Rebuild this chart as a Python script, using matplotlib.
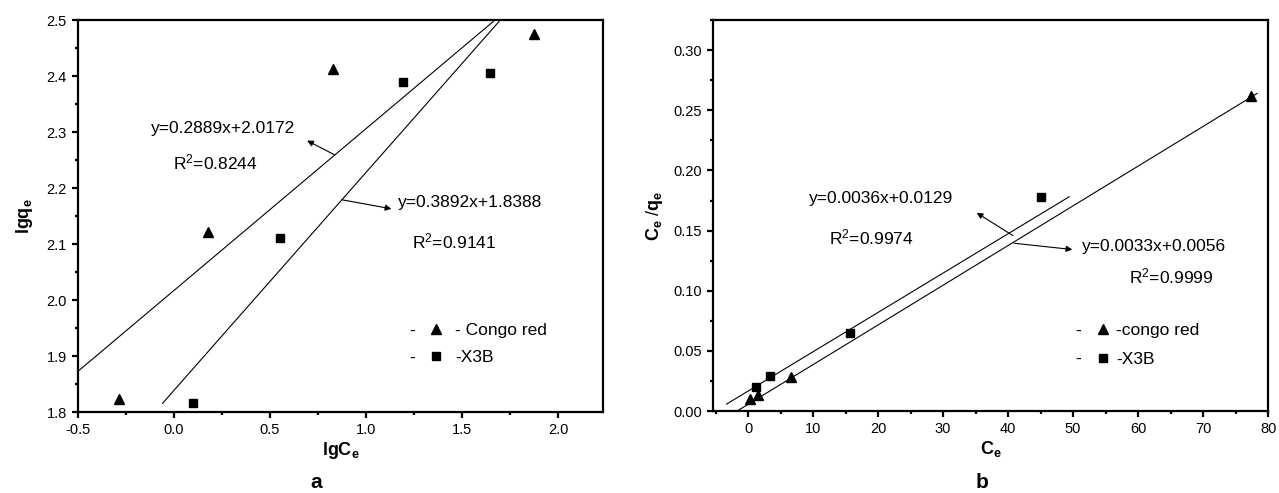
import matplotlib
matplotlib.use('Agg')
import numpy as np
import matplotlib.pyplot as plt
from matplotlib.lines import Line2D
from matplotlib.ticker import MultipleLocator

plt.rcParams['font.family'] = ['Liberation Sans', 'DejaVu Sans']
plt.rcParams['mathtext.fontset'] = 'custom'
plt.rcParams['mathtext.rm'] = 'Liberation Sans'
plt.rcParams['mathtext.bf'] = 'Liberation Sans:bold'
plt.rcParams['mathtext.default'] = 'regular'
plt.rcParams['axes.unicode_minus'] = False

# (a) Freundlich: lgCe / lgqe
congo_lgce = [-0.286, 0.177, 0.828, 1.875]
congo_lgqe = [1.823, 2.121, 2.4125, 2.475]
x3b_lgce = [0.10, 0.552, 1.19, 1.645]
x3b_lgqe = [1.816, 2.11, 2.39, 2.405]
fit_a_slope = [0.2889, 0.3892]
fit_a_icpt = [2.0172, 1.8388]
fit_a_x = [[-0.5, 1.67], [-0.06, 1.70]]
eq_a = ['y=0.2889x+2.0172', 'y=0.3892x+1.8388']
r2_a = ['R$^2$=0.8244', 'R$^2$=0.9141']

# (b) Langmuir: Ce / (Ce/qe)
congo_ce = [0.3, 1.5, 6.6, 77.4]
congo_ceqe = [0.010, 0.013, 0.028, 0.262]
x3b_ce = [1.2, 3.4, 15.7, 45.1]
x3b_ceqe = [0.020, 0.029, 0.065, 0.178]
fit_b_slope = [0.0033, 0.00327]
fit_b_icpt = [0.0056, 0.0166]
fit_b_x = [[-1.7, 78.3], [-3.3, 49.4]]
eq_b = ['y=0.0033x+0.0056', 'y=0.0036x+0.0129']
r2_b = ['R$^2$=0.9999', 'R$^2$=0.9974']

fig = plt.figure(figsize=(12.79, 4.93), dpi=100)
ax1 = fig.add_axes([0.061, 0.1643, 0.4105, 0.795])
ax2 = fig.add_axes([0.5575, 0.1663, 0.434, 0.793])

def style(ax):
    for s in ax.spines.values():
        s.set_linewidth(1.6)
    ax.tick_params(which='both', direction='out', width=1.6, labelsize=10.5,
                   top=False, right=False)
    ax.tick_params(which='major', length=4, pad=4)
    ax.tick_params(which='minor', length=2.5)

# ---- a ----
ax1.plot(congo_lgce, congo_lgqe, '^', color='black', markersize=7, clip_on=False)
ax1.plot(x3b_lgce, x3b_lgqe, 's', color='black', markersize=6, clip_on=False)
for k in range(2):
    xx = np.array(fit_a_x[k])
    ax1.plot(xx, fit_a_slope[k] * xx + fit_a_icpt[k], '-', color='black', lw=0.8)
ax1.set_xlim(-0.5, 2.234)
ax1.set_ylim(1.8, 2.5)
ax1.xaxis.set_major_locator(MultipleLocator(0.5))
ax1.xaxis.set_minor_locator(MultipleLocator(0.25))
ax1.yaxis.set_major_locator(MultipleLocator(0.1))
ax1.yaxis.set_minor_locator(MultipleLocator(0.05))
style(ax1)
ax1.set_xlabel(r'$\mathbf{lgC_e}$', fontsize=13, labelpad=2)
ax1.set_ylabel(r'$\mathbf{lgq_e}$', fontsize=13, labelpad=8)

ax1.text(-0.12, 2.307, eq_a[0], fontsize=12.5, va='center', ha='left')
ax1.text(-0.005, 2.245, r2_a[0], fontsize=12.5, va='center', ha='left')
ax1.annotate('', xy=(0.68, 2.287), xytext=(0.849, 2.257),
             arrowprops=dict(arrowstyle='-|>', color='black', lw=0.8, mutation_scale=9))
ax1.text(1.167, 2.175, eq_a[1], fontsize=12.5, va='center', ha='left')
ax1.text(1.24, 2.104, r2_a[1], fontsize=12.5, va='center', ha='left')
ax1.annotate('', xy=(1.146, 2.162), xytext=(0.859, 2.180),
             arrowprops=dict(arrowstyle='-|>', color='black', lw=0.8, mutation_scale=9))

h = [Line2D([], [], marker='^', color='black', ls='none', markersize=7),
     Line2D([], [], marker='s', color='black', ls='none', markersize=6)]
ax1.legend(h, ['- Congo red', '-X3B'], loc='upper left', bbox_to_anchor=(0.665, 0.228),
           frameon=False, fontsize=12.5, borderpad=0, borderaxespad=0, handlelength=1.0,
           handletextpad=0.6, labelspacing=0.68)
ax1.text(0.636, 0.207, '-', transform=ax1.transAxes, fontsize=12.5, ha='center', va='center')
ax1.text(0.636, 0.138, '-', transform=ax1.transAxes, fontsize=12.5, ha='center', va='center')

# ---- b ----
ax2.plot(congo_ce, congo_ceqe, '^', color='black', markersize=7)
ax2.plot(x3b_ce, x3b_ceqe, 's', color='black', markersize=6)
for k in range(2):
    xx = np.array(fit_b_x[k])
    ax2.plot(xx, fit_b_slope[k] * xx + fit_b_icpt[k], '-', color='black', lw=0.8)
ax2.set_xlim(-5.4, 80)
ax2.set_ylim(0, 0.325)
ax2.xaxis.set_major_locator(MultipleLocator(10))
ax2.xaxis.set_minor_locator(MultipleLocator(5))
ax2.yaxis.set_major_locator(MultipleLocator(0.05))
ax2.yaxis.set_minor_locator(MultipleLocator(0.025))
ax2.yaxis.set_major_formatter(matplotlib.ticker.FormatStrFormatter('%.2f'))
style(ax2)
ax2.set_xlabel(r'$\mathbf{C_e}$', fontsize=13, labelpad=2)
ax2.set_ylabel(r'$\mathbf{C_e}$ /$\mathbf{q_e}$', fontsize=13, labelpad=6)

ax2.text(9.4, 0.177, eq_b[1], fontsize=12.5, va='center', ha='left')
ax2.text(12.5, 0.1447, r2_b[1], fontsize=12.5, va='center', ha='left')
ax2.annotate('', xy=(34.8, 0.166), xytext=(41.1, 0.1446),
             arrowprops=dict(arrowstyle='-|>', color='black', lw=0.8, mutation_scale=9))
ax2.text(51.4, 0.1365, eq_b[0], fontsize=12.5, va='center', ha='left')
ax2.text(58.6, 0.112, r2_b[0], fontsize=12.5, va='center', ha='left')
ax2.annotate('', xy=(50.3, 0.134), xytext=(40.5, 0.1397),
             arrowprops=dict(arrowstyle='-|>', color='black', lw=0.8, mutation_scale=9))

ax2.legend(h, ['-congo red', '-X3B'], loc='upper left', bbox_to_anchor=(0.687, 0.226),
           frameon=False, fontsize=12.5, borderpad=0, borderaxespad=0, handlelength=1.0,
           handletextpad=0.25, labelspacing=0.8)
ax2.text(0.657, 0.205, '-', transform=ax2.transAxes, fontsize=12.5, ha='center', va='center')
ax2.text(0.657, 0.132, '-', transform=ax2.transAxes, fontsize=12.5, ha='center', va='center')

fig.text(316 / 1279, 1 - 482 / 493, 'a', fontsize=15, fontweight='bold', ha='center', va='center')
fig.text(982 / 1279, 1 - 482 / 493, 'b', fontsize=15, fontweight='bold', ha='center', va='center')

plt.savefig('out.png', dpi=100)
